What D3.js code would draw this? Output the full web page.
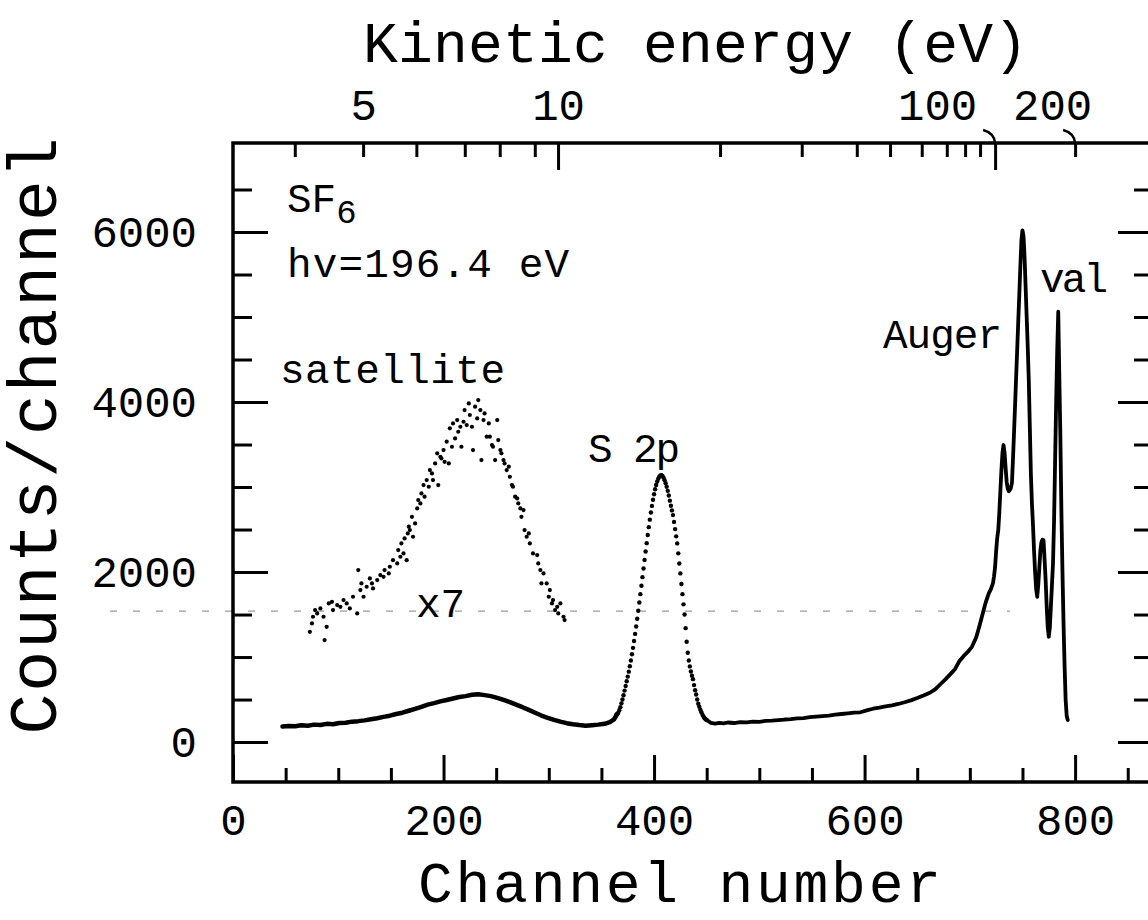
<!DOCTYPE html>
<html><head><meta charset="utf-8">
<script src="https://cdn.jsdelivr.net/npm/d3@7"></script>
<style>
html,body{margin:0;padding:0;background:#fff;}
svg{display:block;}
text{font-family:"Liberation Mono","DejaVu Sans Mono",monospace;fill:#000;}
</style></head><body>
<svg id="chart" width="1148" height="920"></svg>
<script>
// ---------------- DATA ----------------
// main spectrum, left of the S 2p line (channel, counts)
const mainLeftCh = [47,53,59,65,71,77,83,89,95,101,107,113,119,125,131,137,143,149,155,161,167,173,179,185,191,197,203,209,215,221,227,233,239,245,251,257,263,269,275,281,287,293,299,305,311,317,323,329,335,341,347,353,358,362,365];
const mainLeftCounts = [182,190,186,198,192,205,200,214,210,224,228,240,246,255,268,280,296,310,330,345,368,390,415,440,458,478,495,512,530,540,556,562,552,540,520,495,470,440,410,378,345,312,285,262,240,222,210,200,192,198,205,215,235,268,330];

// S 2p photoline, one point per channel
const s2pCh = d3.range(364, 451);
const s2pCounts = [318,330,345,375,410,455,500,550,605,660,715,770,828,892,960,1032,1108,1189,1272,1360,1451,1545,1641,1740,1839,1940,2042,2143,2242,2340,2436,2528,2616,2700,2778,2850,2915,2973,3023,3065,3097,3121,3135,3140,3130,3110,3080,3045,3004,2955,2900,2840,2780,2725,2670,2590,2505,2420,2337,2220,2100,1984,1860,1740,1620,1500,1340,1180,1050,960,890,830,780,740,670,610,560,500,450,416,380,350,320,300,280,268,259];

// main spectrum, right of the S 2p line (Auger + valence)
const mainRightCh = [450,454,458,462,466,470,476,482,488,494,500,506,512,518,524,530,536,542,548,554,560,566,572,578,584,590,596,602,608,614,620,626,632,638,644,650,656,662,667,672,677,682,686,690,694,698,702,706,709,712,715,718,720,722,723,724,725,726,727,728,729,730,731,732,733,734,735,736,737,738,739,740,741,742,743,744,745,746,747,748,749,750,751,752,753,754,755,756,757,758,759,760,761,762,763,764,765,766,767,768,769,770,771,772,773,774,775,776,777,778,779,780,781,782,783,784,785,786,787,788,789,790,791,792,793];
const mainRightCounts = [259,225,218,226,220,230,224,235,232,240,238,248,252,258,265,270,278,282,292,298,305,312,322,330,338,345,350,372,392,405,420,432,448,468,490,518,548,580,620,680,740,805,860,950,1010,1060,1120,1230,1360,1500,1640,1750,1800,1870,1950,2062,2250,2400,2494,2700,2950,3200,3400,3494,3400,3220,3060,2980,2950,2965,2990,3050,3330,3650,3970,4300,4620,4950,5270,5600,5900,6020,5950,5700,5350,5000,4650,4250,3700,3150,2800,2550,2250,2000,1800,1709,1850,2050,2250,2350,2380,2376,2150,1906,1600,1350,1239,1350,1600,1850,2100,2600,3300,4000,4600,5062,4300,3600,2700,2000,1400,900,500,310,259];

// satellite region multiplied by 7
const satCh = [73,75,76,78,80,83,86,87,89,91,94,95,99,102,105,108,111,114,118,119,121,122,124,127,130,132,133,137,140,143,144,148,149,152,156,157,159,160,162,163,165,166,167,168,170,171,173,175,176,178,179,181,182,184,186,187,189,190,192,194,195,197,198,200,201,203,205,206,208,209,211,213,214,216,217,219,220,222,224,225,227,228,230,232,233,235,236,238,239,241,243,244,246,247,249,251,252,254,255,257,258,260,262,263,265,266,268,270,271,273,274,276,277,279,281,282,285,289,290,292,293,295,298,300,301,303,304,306,308,309,311,314,315];
const satCounts = [1297,1395,1474,1552,1513,1572,1474,1199,1356,1631,1650,1552,1611,1591,1670,1631,1572,1709,1513,2023,1788,1866,1709,1827,1925,1866,1807,1905,1964,1944,2023,1984,2062,2140,2101,2258,2180,2337,2219,2395,2140,2454,2533,2494,2650,2415,2572,2748,2846,2807,2925,3023,2886,3082,3003,3199,3160,3082,3278,3396,3023,3356,3337,3435,3297,3533,3278,3690,3474,3748,3572,3788,3650,3709,3474,3768,3905,3729,3984,3847,3709,3435,3945,3807,4023,3905,3317,3788,3866,3592,3748,3592,3494,3474,3317,3788,3552,3435,3396,3317,3278,3199,3239,3121,3023,3003,2886,2866,2807,2748,2650,2729,2494,2415,2454,2337,2219,2199,2101,2023,1866,1984,1866,1709,1788,1631,1670,1552,1591,1513,1631,1474,1435];

// axes
const channelMajor = [0,200,400,600,800];
const channelMinor = [50,100,150,250,300,350,450,500,550,650,700,750,850];
const countMajor = [0,2000,4000,6000];
const countMinor = [500,1000,1500,2500,3000,3500,4500,5000,5500,6500];
const keTicks = [4,5,6,7,8,9,10,20,30,40,50,60,70,80,90,100,200];
const keTickChannels = [58.7,123.6,174.2,220.2,253.4,286.7,308.8,462.7,540.3,592.6,624.2,654.3,678.1,695.5,709.7,724,800];
const keMajor = [10,100];
const keLabels = [5,10,100,200];
const x7Baseline = 1540;

// ---------------- DRAW ----------------
const FONT = '"Liberation Mono","DejaVu Sans Mono",monospace';
const svg = d3.select("#chart");
svg.append("rect").attr("width",1148).attr("height",920).attr("fill","#fff");

const x = d3.scaleLinear().domain([0, 874]).range([233, 1153]);
const y = d3.scaleLinear().domain([-470, 7047]).range([782, 143]);
const ke = d3.scaleLinear().domain(keTicks).range(keTickChannels.map(x));

// faint dashed reference line (x7 baseline)
svg.append("line")
  .attr("x1", 110).attr("x2", 1010)
  .attr("y1", y(x7Baseline)).attr("y2", y(x7Baseline))
  .attr("stroke", "#9a9a9a").attr("stroke-width", 1.2)
  .attr("stroke-dasharray", "7 16");

function styleAxis(g, size) {
  g.select(".domain").remove();
  g.selectAll(".tick line").attr("stroke", "#000").attr("stroke-width", 3);
  g.attr("font-family", FONT).attr("font-size", size);
  g.selectAll("text").attr("fill", "#000");
}

// bottom axis
svg.append("g").attr("transform", "translate(0,782)")
  .call(d3.axisBottom(x).tickValues(channelMinor).tickSizeInner(-14).tickSizeOuter(0).tickFormat(""))
  .call(g => styleAxis(g, 44));
svg.append("g").attr("transform", "translate(0,782)")
  .call(d3.axisBottom(x).tickValues(channelMajor).tickSizeInner(-27).tickSizeOuter(0).tickPadding(22).tickFormat(d3.format("d")))
  .call(g => styleAxis(g, 44));

// left axis
svg.append("g").attr("transform", "translate(233,0)")
  .call(d3.axisLeft(y).tickValues(countMinor).tickSizeInner(-19).tickSizeOuter(0).tickFormat(""))
  .call(g => styleAxis(g, 44));
svg.append("g").attr("transform", "translate(233,0)")
  .call(d3.axisLeft(y).tickValues(countMajor).tickSizeInner(-35).tickSizeOuter(0).tickPadding(36).tickFormat(d3.format("d")))
  .call(g => styleAxis(g, 44));

// right axis
svg.append("g").attr("transform", "translate(1153,0)")
  .call(d3.axisRight(y).tickValues(countMinor).tickSizeInner(-19).tickSizeOuter(0).tickFormat(""))
  .call(g => styleAxis(g, 44));
svg.append("g").attr("transform", "translate(1153,0)")
  .call(d3.axisRight(y).tickValues(countMajor).tickSizeInner(-35).tickSizeOuter(0).tickFormat(""))
  .call(g => styleAxis(g, 44));

// top axis (kinetic energy)
svg.append("g").attr("transform", "translate(0,143)")
  .call(d3.axisTop(ke).tickValues(keTicks.filter(v => !keMajor.includes(v))).tickSizeInner(-14).tickSizeOuter(0).tickFormat(""))
  .call(g => styleAxis(g, 44));
svg.append("g").attr("transform", "translate(0,143)")
  .call(d3.axisTop(ke).tickValues(keMajor).tickSizeInner(-27).tickSizeOuter(0).tickFormat(""))
  .call(g => styleAxis(g, 44));
const topLab = svg.append("g").attr("transform", "translate(0,143)")
  .call(d3.axisTop(ke).tickValues(keLabels).tickSize(0).tickPadding(23).tickFormat(d3.format("d")))
  .call(g => styleAxis(g, 44));
topLab.selectAll(".tick text").attr("dx", d => d === 100 ? -58 : d === 200 ? -23 : 0);
// little brackets joining the shifted labels to their ticks
svg.append("g").selectAll("path").data([100, 200]).join("path")
  .attr("d", d => { const k = ke(d); return `M${k-12},130 Q${k-1},133 ${k},143`; })
  .attr("fill", "none").attr("stroke", "#000").attr("stroke-width", 2.5);

// frame
svg.append("rect").attr("x", 233).attr("y", 143).attr("width", 920).attr("height", 639)
  .attr("fill", "none").attr("stroke", "#000").attr("stroke-width", 3.5);

// data
const line = d3.line().x(d => x(d[0])).y(d => y(d[1]));
svg.append("path").datum(d3.zip(mainLeftCh, mainLeftCounts))
  .attr("d", line).attr("fill", "none").attr("stroke", "#000")
  .attr("stroke-width", 4.5).attr("stroke-linejoin", "round").attr("stroke-linecap", "round");
svg.append("path").datum(d3.zip(mainRightCh, mainRightCounts))
  .attr("d", line).attr("fill", "none").attr("stroke", "#000")
  .attr("stroke-width", 3.8).attr("stroke-linejoin", "round").attr("stroke-linecap", "round");
svg.append("g").selectAll("circle").data(d3.zip(s2pCh, s2pCounts)).join("circle")
  .attr("cx", d => x(d[0])).attr("cy", d => y(d[1])).attr("r", 2.2).attr("fill", "#000");
svg.append("g").selectAll("circle").data(d3.zip(satCh, satCounts)).join("circle")
  .attr("cx", d => x(d[0])).attr("cy", d => y(d[1])).attr("r", 2.1).attr("fill", "#000");

// axis titles
svg.append("text").attr("x", 363).attr("y", 62).attr("font-size", 58)
  .attr("textLength", 665).attr("lengthAdjust", "spacing").text("Kinetic energy (eV)");
svg.append("text").attr("x", 418).attr("y", 902).attr("font-size", 58)
  .attr("textLength", 523).attr("lengthAdjust", "spacing").text("Channel number");
svg.append("text").attr("transform", "translate(56,436) rotate(-90)")
  .attr("text-anchor", "middle").attr("font-size", 68)
  .attr("textLength", 597).attr("lengthAdjust", "spacing").text("Counts/channel");

// annotations
const ann = svg.append("g").attr("font-size", 41);
const sf = ann.append("text").attr("x", 287).attr("y", 212);
sf.append("tspan").text("SF");
sf.append("tspan").attr("font-size", 34).attr("dy", 11).text("6");
ann.append("text").attr("x", 287).attr("y", 277).attr("textLength", 282).attr("lengthAdjust", "spacing").text("hv=196.4 eV");
ann.append("text").attr("x", 280).attr("y", 383).attr("textLength", 225).attr("lengthAdjust", "spacing").text("satellite");
ann.append("text").attr("x", 416).attr("y", 617).text("x7");
ann.append("text").attr("x", 588).attr("y", 462).attr("textLength", 92).attr("lengthAdjust", "spacing").text("S 2p");
ann.append("text").attr("x", 883).attr("y", 348).attr("textLength", 119).attr("lengthAdjust", "spacing").text("Auger");
ann.append("text").attr("x", 1040).attr("y", 292).attr("textLength", 68).attr("lengthAdjust", "spacing").text("val");
</script>
</body></html>
